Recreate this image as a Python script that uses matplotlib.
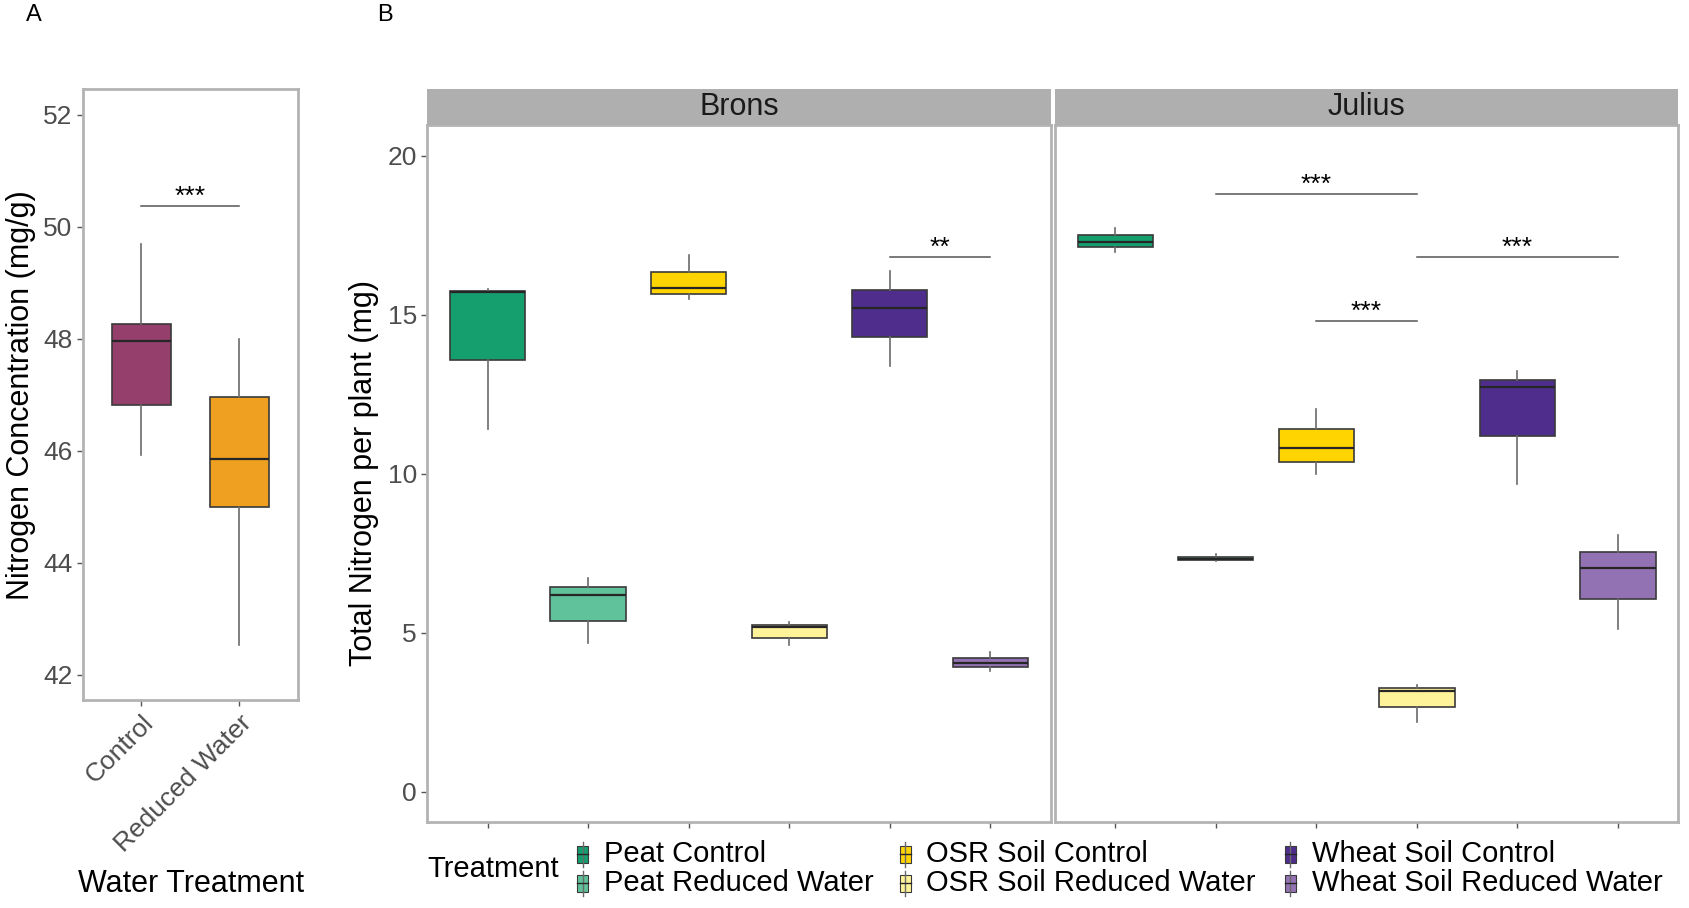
import matplotlib
matplotlib.use("Agg")
import matplotlib.pyplot as plt
from matplotlib.patches import Rectangle
from matplotlib.lines import Line2D

plt.rcParams['font.family'] = ['Liberation Sans', 'DejaVu Sans']

# ---- panel A data: nitrogen concentration (mg/g)
water_labels = ["Control", "Reduced Water"]
water_colors = ["#943f6c", "#efa020"]
a_whislo = [45.92, 42.52]
a_q1 = [46.81, 45.00]
a_med = [47.96, 45.85]
a_q3 = [48.27, 46.96]
a_whishi = [49.70, 48.00]

# ---- panel B data: total nitrogen per plant (mg)
treatments = ["Peat Control", "Peat Reduced Water", "OSR Soil Control",
              "OSR Soil Reduced Water", "Wheat Soil Control", "Wheat Soil Reduced Water"]
treat_colors = ["#159e6e", "#5fc29a", "#ffd400", "#fff39a", "#4f2d8c", "#9372b4"]
varieties = ["Brons", "Julius"]

b_whislo = {"Brons": [11.40, 4.67, 15.50, 4.60, 13.40, 3.80],
            "Julius": [16.99, 7.25, 10.00, 2.20, 9.68, 5.11]}
b_q1 = {"Brons": [13.57, 5.38, 15.67, 4.84, 14.31, 3.93],
        "Julius": [17.12, 7.28, 10.36, 2.67, 11.20, 6.06]}
b_med = {"Brons": [15.72, 6.19, 15.84, 5.18, 15.23, 4.06],
         "Julius": [17.29, 7.33, 10.80, 3.18, 12.72, 7.04]}
b_q3 = {"Brons": [15.74, 6.43, 16.34, 5.25, 15.77, 4.20],
        "Julius": [17.50, 7.38, 11.40, 3.25, 12.96, 7.55]}
b_whishi = {"Brons": [15.82, 6.73, 16.89, 5.35, 16.38, 4.40],
            "Julius": [17.73, 7.48, 12.05, 3.35, 13.23, 8.09]}

# significance bars: (from position, to position, height, label)
a_sig = [(1, 2, 50.37, "***")]
b_sig = {"Brons": [(5, 6, 16.82, "**")],
         "Julius": [(2, 4, 18.80, "***"), (3, 4, 14.82, "***"), (4, 6, 16.82, "***")]}

frame_col = "#b3b3b3"
tick_col = "#4d4d4d"


def style_axis(ax):
    for s in ax.spines.values():
        s.set_color(frame_col)
        s.set_linewidth(2)
    ax.tick_params(colors="#555555", labelcolor=tick_col, labelsize=19,
                   length=4, width=1)


def draw_boxes(ax, lo, q1, med, q3, hi, colors, width):
    stats = []
    for i in range(len(med)):
        stats.append({"whislo": lo[i], "q1": q1[i], "med": med[i],
                      "q3": q3[i], "whishi": hi[i], "fliers": []})
    pos = list(range(1, len(med) + 1))
    bp = ax.bxp(stats, positions=pos, widths=width, patch_artist=True,
                showcaps=False, showfliers=False,
                boxprops=dict(edgecolor="#3a3a3a", linewidth=1.2),
                whiskerprops=dict(color="#6a6a6a", linewidth=1.2),
                medianprops=dict(color="#262626", linewidth=1.6))
    for patch, c in zip(bp["boxes"], colors):
        patch.set_facecolor(c)


def draw_sig(ax, sigs):
    for x0, x1, y, lab in sigs:
        ax.plot([x0, x1], [y, y], color="#555555", linewidth=1.1)
        ax.annotate(lab, ((x0 + x1) / 2, y), xytext=(0, 1.5),
                    textcoords="offset points", ha="center", va="baseline",
                    fontsize=19, color="black")


fig = plt.figure(figsize=(16.89, 9.08), dpi=100)

# ---------------- panel A
axA = fig.add_axes([0.049, 0.2287, 0.1275, 0.673])
draw_boxes(axA, a_whislo, a_q1, a_med, a_q3, a_whishi, water_colors, 0.6)
draw_sig(axA, a_sig)
axA.set_xlim(0.4, 2.6)
axA.set_ylim(41.54, 52.46)
axA.set_yticks([42, 44, 46, 48, 50, 52])
axA.set_xticks([1, 2])
axA.set_xticklabels(water_labels, rotation=45, ha="right", rotation_mode="anchor")
style_axis(axA)
axA.set_ylabel("Nitrogen Concentration (mg/g)", fontsize=22, labelpad=5)
fig.text(0.113, 0.026, "Water Treatment", ha="center", va="center", fontsize=22)

# ---------------- panel B facets
lefts = [0.253, 0.6246]
pw = 0.369
axes_b = []
for k, var in enumerate(varieties):
    ax = fig.add_axes([lefts[k], 0.0948, pw, 0.7678])
    draw_boxes(ax, b_whislo[var], b_q1[var], b_med[var], b_q3[var],
               b_whishi[var], treat_colors, 0.75)
    draw_sig(ax, b_sig[var])
    ax.set_xlim(0.4, 6.6)
    ax.set_ylim(-0.95, 20.98)
    ax.set_xticks(range(1, 7))
    ax.set_xticklabels([])
    ax.set_yticks([0, 5, 10, 15, 20])
    style_axis(ax)
    if k > 0:
        ax.set_yticklabels([])
        ax.tick_params(axis="y", length=0)
    axes_b.append(ax)

    strip = fig.add_axes([lefts[k], 0.8626, pw, 0.0391])
    strip.set_facecolor("#afafaf")
    strip.set_xticks([])
    strip.set_yticks([])
    for s in strip.spines.values():
        s.set_visible(False)
    strip.text(0.5, 0.5, var, ha="center", va="center", fontsize=22,
               color="#1a1a1a", transform=strip.transAxes)

axes_b[0].set_ylabel("Total Nitrogen per plant (mg)", fontsize=22, labelpad=6)

# ---------------- legend (drawn by hand, ggplot style)
fig.text(0.253, 0.043, "Treatment", ha="left", va="center", fontsize=21)
key_x = [0.345, 0.536, 0.764]
row_y = [0.059, 0.027]
kw, kh = 0.0065, 0.019
for i, (name, col) in enumerate(zip(treatments, treat_colors)):
    cx = key_x[i // 2]
    cy = row_y[i % 2]
    fig.add_artist(Line2D([cx, cx], [cy - 0.014, cy + 0.014], color="#6a6a6a",
                          linewidth=1, transform=fig.transFigure))
    fig.add_artist(Rectangle((cx - kw / 2, cy - kh / 2), kw, kh, facecolor=col,
                             edgecolor="#3a3a3a", linewidth=0.8,
                             transform=fig.transFigure))
    fig.add_artist(Line2D([cx - kw / 2, cx + kw / 2], [cy, cy], color="#262626",
                          linewidth=1, transform=fig.transFigure))
    fig.text(cx + 0.0125, cy, name, ha="left", va="center", fontsize=21)

# panel letters
fig.text(0.020, 0.983, "A", ha="center", va="center", fontsize=17)
fig.text(0.228, 0.983, "B", ha="center", va="center", fontsize=17)

fig.savefig("out.png", dpi=100)
